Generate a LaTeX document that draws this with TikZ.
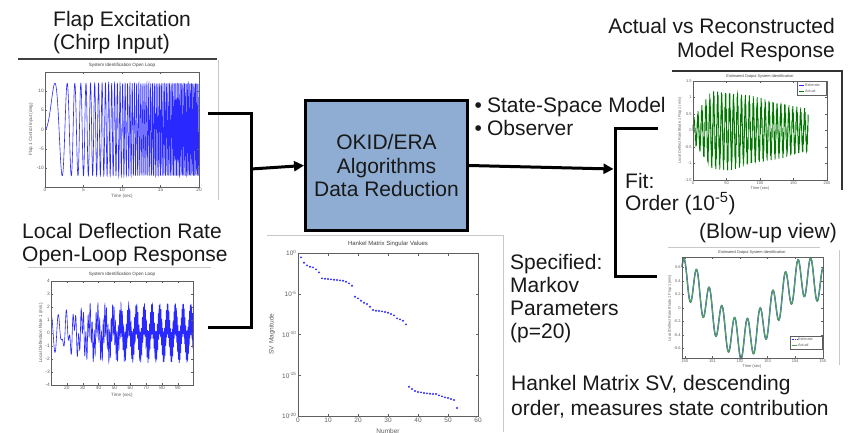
\documentclass[tikz,border=0pt]{standalone}
\usepackage{fontspec}
\setmainfont{Liberation Sans}
\usetikzlibrary{arrows.meta}
\definecolor{boxblue}{RGB}{143,173,210}
\definecolor{plblue}{RGB}{40,40,255}
\definecolor{plgreen}{RGB}{0,120,0}
\definecolor{lgreen}{RGB}{80,165,80}
\definecolor{axgray}{RGB}{95,95,95}
\definecolor{bordgray}{RGB}{200,200,200}
\tikzset{
  bigtext/.style={font=\fontsize{21}{23}\selectfont, inner sep=0pt, text=black!90},
  conn/.style={line width=3pt, draw=black, line join=miter},
  arr/.style={conn, -{Triangle[length=10pt,width=10pt]}},
  axbox/.style={draw=axgray, line width=0.4pt},
  ticklab/.style={font=\fontsize{4.8}{5}\selectfont, text=axgray, inner sep=0.6pt},
  hticklab/.style={font=\fontsize{6.5}{7}\selectfont, text=axgray, inner sep=0.8pt},
  ptitle/.style={font=\fontsize{4.6}{5}\selectfont, text=black!75, inner sep=0pt},
  axlab/.style={font=\fontsize{4.6}{5}\selectfont, text=axgray, inner sep=0pt},
  frameline/.style={draw=bordgray, line width=0.6pt},
  leglab/.style={font=\fontsize{3.8}{4}\selectfont, text=axgray, inner sep=0.3pt, anchor=west},
}
\begin{document}
\begin{tikzpicture}[x=1pt,y=-1pt]
\useasboundingbox[fill=white] (0,0) rectangle (848,432);

% ---------------- titles and texts (anchor = baseline of last line) ----------------
\node[bigtext, anchor=base west, align=left] (t1) at (53,49.5) {Flap Excitation\\(Chirp Input)};
\node[bigtext, anchor=base west, align=left, font=\fontsize{21}{23.4}\selectfont] (t2) at (22,261.7) {Local Deflection Rate\\Open-Loop Response};
\node[bigtext, anchor=base east, align=right, font=\fontsize{21}{24}\selectfont] (t3) at (835,57.3) {Actual vs Reconstructed\\Model Response};
\node[bigtext, anchor=base west, align=left, font=\fontsize{21}{22.8}\selectfont] (t4) at (474.5,135.1) {•\hspace{5pt}State-Space Model\\•\hspace{5pt}Observer};
\node[bigtext, anchor=base west, align=left, font=\fontsize{21}{22}\selectfont] (t5) at (625,210.3) {Fit:\\Order (10\textsuperscript{-5})};
\node[bigtext, anchor=base east] (t6) at (837,238.3) {(Blow-up view)};
\node[bigtext, anchor=base west, align=left, font=\fontsize{21}{22.9}\selectfont] (t7) at (510,338) {Specified:\\Markov\\Parameters\\(p=20)};
\node[bigtext, anchor=base west, align=left, font=\fontsize{21}{25}\selectfont] (t8) at (511,415) {Hankel Matrix SV, descending\\order, measures state contribution};

% ---------------- central box ----------------
\node[draw=black, line width=3pt, fill=boxblue, minimum width=162pt, minimum height=130pt,
      align=center, font=\fontsize{21}{23.5}\selectfont, inner sep=0pt, text=black!90] (box) at (386.5,165.5)
      {OKID/ERA\\Algorithms\\Data Reduction};

% ---------------- plot 1 : chirp input ----------------
\draw[line width=2pt, draw=black!75] (18,59) -- (217,59);
\draw[frameline] (218,60) -- (218,200);
\node[ptitle] (p1t) at (122,65.5) {System Identification Open Loop};
\draw[plblue, line width=0.6pt] plot[domain=0:20, samples=2001, variable=\t]
  ({45+7.7*\t},{129.5-46.2*sin(360*mod(0.15*\t*\t,1))});
\draw[axbox] (45,72) rectangle (199,187);
\foreach \v [count=\i] in {-10,-5,0,5,10} {
  \draw[axbox] (45,{129.5-3.85*\v}) -- ++(2,0);
  \draw[axbox] (199,{129.5-3.85*\v}) -- ++(-2,0);
  \node[ticklab, anchor=east] (p1y\i) at (44.5,{129.5-3.85*\v}) {\v};
}
\foreach \v [count=\i] in {0,5,10,15,20} {
  \draw[axbox] ({45+7.7*\v},187) -- ++(0,-2);
  \draw[axbox] ({45+7.7*\v},72) -- ++(0,2);
  \node[ticklab, anchor=north] (p1x\i) at ({45+7.7*\v},187.5) {\v};
}
\node[axlab] (p1xl) at (122,196.5) {Time (sec)};
\node[axlab, rotate=90] (p1yl) at (31,129.5) {Flap 1 Control Input (deg)};

% ---------------- plot 2 : open-loop response ----------------
\draw[frameline] (28,267) -- (211,267);
\node[ptitle] (p2t) at (122,274) {System Identification Open Loop};
\draw[plblue, line width=0.6pt] plot[domain=10:99.5, samples=1800, variable=\t]
  ({51+1.586*(\t-10)},{333-13*(1.1*cos(73.469*(\t-10))+min(1.2,0.3+(\t-10)/25)*sin(360*mod(0.011*\t*\t,1)))});
\draw[axbox] (51,281) rectangle (193,385);
\foreach \v [count=\i] in {-4,-3,-2,-1,0,1,2,3,4} {
  \draw[axbox] (51,{333-13*\v}) -- ++(2,0);
  \draw[axbox] (193,{333-13*\v}) -- ++(-2,0);
  \node[ticklab, anchor=east] (p2y\i) at (50.5,{333-13*\v}) {\v};
}
\foreach \v [count=\i] in {20,30,40,50,60,70,80,90} {
  \draw[axbox] ({51+1.586*(\v-10)},385) -- ++(0,-2);
  \draw[axbox] ({51+1.586*(\v-10)},281) -- ++(0,2);
  \node[ticklab, anchor=north] (p2x\i) at ({51+1.586*(\v-10)},385.5) {\v};
}
\node[axlab] (p2xl) at (122,395.5) {Time (sec)};
\node[axlab, rotate=90] (p2yl) at (41,333) {Local Deflection Rate 1 (m/s)};

% ---------------- Hankel singular values ----------------
\draw[frameline] (267,235) -- (503,235) -- (503,432);
\node[ptitle, font=\fontsize{6}{7}\selectfont] (hkt) at (388,244) {Hankel Matrix Singular Values};
\draw[axbox] (298,253) rectangle (478,416);
\foreach \e [count=\i] in {0,-5,-10,-15,-20} {
  \draw[axbox] (298,{253-8.15*\e}) -- ++(2.5,0);
  \draw[axbox] (478,{253-8.15*\e}) -- ++(-2.5,0);
  \node[hticklab, anchor=east] (hky\i) at (297.5,{253-8.15*\e}) {10\textsuperscript{\e}};
}
\foreach \v [count=\i] in {0,10,20,30,40,50,60} {
  \draw[axbox] ({298+3*\v},416) -- ++(0,-2.5);
  \draw[axbox] ({298+3*\v},253) -- ++(0,2.5);
  \node[hticklab, anchor=north] (hkx\i) at ({298+3*\v},416.5) {\v};
}
\node[axlab, font=\fontsize{6.5}{7}\selectfont] (hkxl) at (388,431) {Number};
\node[axlab, font=\fontsize{6.5}{7}\selectfont, rotate=90] (hkyl) at (272,334) {SV Magnitude};
\foreach \n/\py in {1/257.3,2/262.7,3/265.3,4/266.7,5/267.3,6/269.3,7/272.3,8/278.3,9/278.7,10/279,
  11/279.3,12/279.7,13/280,14/280.3,15/280.7,16/281.7,17/283.3,18/285.7,19/296.7,20/298.3,
  21/300.7,22/302.7,23/304,24/306.7,25/310,26/310.7,27/311,28/311.3,29/312,30/312.7,
  31/314,32/315.3,33/318.3,34/319.3,35/320.7,36/324.3,37/386.7,38/389,39/391,40/392,
  41/392.3,42/393,43/393.3,44/393.7,45/394,46/394,47/395.3,48/396.3,49/397.3,50/398,
  51/399,52/400,53/408} {
  \fill[plblue] ({298+3*\n},\py) circle[radius=1.05pt];
}

% ---------------- plot 3 : actual vs reconstructed ----------------
\draw[line width=1.2pt, draw=black!80] (672,71) -- (842,71) -- (842,190);
\node[ptitle, font=\fontsize{3.9}{4}\selectfont] (p3t) at (760,76) {Estimated Output System Identification};
\draw[plgreen, line width=0.85pt] plot[domain=0:172, samples=1500, variable=\t]
  ({693+0.67*\t},{130.5-33*min(0.35+\t/35,1.15-0.0045*max(0,\t-55))*(0.75*sin(61.0169*\t)+0.3*sin(360*mod(1.37*\t,1)))});
\draw[axbox] (693,81) rectangle (827,180);
\foreach \v [count=\i] in {-1.5,-1,-0.5,0,0.5,1,1.5} {
  \draw[axbox] (693,{130.5-33*\v}) -- ++(2,0);
  \draw[axbox] (827,{130.5-33*\v}) -- ++(-2,0);
  \node[ticklab, font=\fontsize{4}{4}\selectfont, anchor=east] (p3y\i) at (692.5,{130.5-33*\v}) {\v};
}
\foreach \v [count=\i] in {0,50,100,150,200} {
  \draw[axbox] ({693+0.67*\v},180) -- ++(0,-2);
  \draw[axbox] ({693+0.67*\v},81) -- ++(0,2);
  \node[ticklab, font=\fontsize{4}{4}\selectfont, anchor=north] (p3x\i) at ({693+0.67*\v},180.5) {\v};
}
\node[axlab, font=\fontsize{4}{4}\selectfont] (p3xl) at (760,188.5) {Time (sec)};
\node[axlab, font=\fontsize{3.8}{4}\selectfont, rotate=90] (p3yl) at (680,130.5) {Local Deflect Rate Blade 1 Flap 1 (m/s)};
\draw[axbox, fill=white] (797,81.5) rectangle (826.5,95);
\draw[plblue, line width=0.6pt] (798.5,85) -- (804,85);
\draw[plgreen, line width=0.6pt] (798.5,91) -- (804,91);
\node[leglab] (p3l1) at (804.5,85) {Estimate};
\node[leglab] (p3l2) at (804.5,91) {Actual};

% ---------------- plot 4 : blow-up view ----------------
\draw[frameline] (668,247) -- (820,247);
\draw[frameline] (839,250) -- (839,365);
\node[ptitle, font=\fontsize{3.9}{4}\selectfont] (p4t) at (752,252) {Estimated Output System Identification};
\draw[plblue, line width=1.3pt] plot[domain=682:823, samples=300, variable=\p]
  (\p,{308-67.5*(-0.46*cos(2.8125*(\p-742))+0.29*sin(28.414*(\p-693.5)))});
\draw[lgreen, line width=1.15pt] plot[domain=682:823, samples=300, variable=\p]
  (\p,{308-67.5*(-0.46*cos(2.8125*(\p-742))+0.29*sin(28.414*(\p-693.5)))});
\draw[axbox] (682,257) rectangle (823,358);
\foreach \v [count=\i] in {-0.6,-0.4,-0.2,0,0.2,0.4,0.6} {
  \draw[axbox] (682,{308-67.5*\v}) -- ++(2,0);
  \draw[axbox] (823,{308-67.5*\v}) -- ++(-2,0);
  \node[ticklab, font=\fontsize{4}{4}\selectfont, anchor=east] (p4y\i) at (681.5,{308-67.5*\v}) {\v};
}
\foreach \v [count=\i] in {150,151,152,153,154,155} {
  \draw[axbox] ({684.8+27.6*(\v-150)},358) -- ++(0,-2);
  \draw[axbox] ({684.8+27.6*(\v-150)},257) -- ++(0,2);
  \node[ticklab, font=\fontsize{4}{4}\selectfont, anchor=north] (p4x\i) at ({684.8+27.6*(\v-150)},358.5) {\v};
}
\node[axlab, font=\fontsize{4}{4}\selectfont] (p4xl) at (752,366.5) {Time (sec)};
\node[axlab, font=\fontsize{3.8}{4}\selectfont, rotate=90] (p4yl) at (670,308) {Local Deflect Rate Blade 1 Flap 1 (m/s)};
\draw[axbox, fill=white] (790,336) rectangle (822.5,349);
\draw[plblue, line width=0.6pt, dash pattern=on 1pt off 0.7pt] (791.5,339.5) -- (797,339.5);
\draw[lgreen, line width=0.8pt] (791.5,345.5) -- (797,345.5);
\node[leglab] (p4l1) at (797.5,339.5) {Estimate};
\node[leglab] (p4l2) at (797.5,345.5) {Actual};

% ---------------- connectors ----------------
\coordinate (s1) at (208,113);
\coordinate (s2) at (208,327);
\coordinate (jx) at (251,169);
\draw[conn] (s1) -| (jx) |- (s2);
\draw[arr] (jx) -- (box.west);
\coordinate (bj) at (615,169);
\coordinate (r1) at (658,128);
\coordinate (r2) at (657,276);
\draw[conn] (r1) -| (bj) |- (r2);
\draw[arr] (box.east) -- ([xshift=-1.5pt]bj);
\end{tikzpicture}
\end{document}
